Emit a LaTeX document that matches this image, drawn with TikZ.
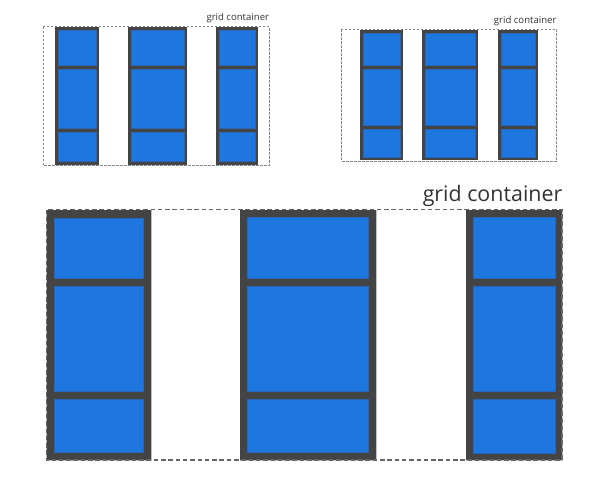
\documentclass[tikz,border=0pt]{standalone}
\usepackage{fontspec}
\setmainfont{Open Sans}
\definecolor{cellblue}{HTML}{1E76DF}
\definecolor{celledge}{HTML}{2A66B8}
\definecolor{darkframe}{HTML}{444444}
\definecolor{dashgray}{HTML}{666666}
\definecolor{txtgray}{HTML}{333333}
% \gcol{x1}{x2}{top}{bottom}{border}{line1 start}{line1 end}{line2 start}{line2 end}
\newcommand\gcol[9]{%
  \fill[darkframe] (#1,#3) rectangle (#2,#4);
  \filldraw[cellblue cell] ({#1+#5},{#3+#5}) rectangle ({#2-#5},#6);
  \filldraw[cellblue cell] ({#1+#5},#7) rectangle ({#2-#5},#8);
  \filldraw[cellblue cell] ({#1+#5},#9) rectangle ({#2-#5},{#4-#5});
}
\tikzset{
  cellblue cell/.style={fill=cellblue, draw=celledge, line width=0.4pt},
  bigdash/.style={draw=dashgray, line width=1.5pt, dash pattern=on 4.5pt off 2.8pt},
  smalldash/.style={draw=dashgray!80, line width=0.8pt, dash pattern=on 2.5pt off 1.5pt},
  bigtitle/.style={inner sep=0pt, text=txtgray, font=\fontsize{21.4}{24}\selectfont},
  smalltitle/.style={inner sep=0pt, text=txtgray, font=\fontsize{9.6}{11}\selectfont},
  coledge/.style={draw=black!25, line width=0.8pt}
}
\begin{document}
\begin{tikzpicture}[x=1pt,y=-1pt]
\useasboundingbox (0,0) rectangle (609,484);
\fill[white] (0,0) rectangle (609,484);

% ---------- top-left small grid ----------
\gcol{55}{99}{27.5}{164.5}{3.2}{65}{69}{127.7}{131.7}
\gcol{128.3}{187.3}{27.5}{164.5}{3.2}{65}{69}{127.7}{131.7}
\gcol{215.7}{258.3}{27.5}{164.5}{3.2}{65}{69}{127.7}{131.7}
\draw[smalldash] (43.3,26.7) rectangle (269.3,165.7);
\node[smalltitle, anchor=base east] (t1) at (269.3,20.7) {grid container};

% ---------- top-right small grid ----------
\gcol{360}{402.7}{30}{160}{3.0}{65}{69.3}{125}{129}
\gcol{422}{478.3}{30}{160}{3.0}{65}{69.3}{125}{129}
\gcol{498.3}{538.3}{30}{160}{3.0}{65}{69.3}{125}{129}
\draw[smalldash] (341.7,29.3) rectangle (556.7,161);
\node[smalltitle, anchor=base east] (t2) at (556.7,24) {grid container};

% ---------- large grid ----------
\draw[coledge] (46.5,210) rectangle (151,460);
\draw[coledge] (240,210) rectangle (376,460);
\draw[coledge] (466,210) rectangle (562,460);
\gcol{46.5}{151}{210}{460}{8}{278}{286}{391}{399}
\gcol{240}{376}{210}{460}{7.5}{278}{286}{391}{399}
\gcol{466}{562}{210}{460}{7}{278}{286}{391}{399}
\draw[bigdash] (46.5,209.5) rectangle (562,460);
\node[bigtitle, anchor=base east] (t3) at (562.5,201) {grid container};
\end{tikzpicture}
\end{document}
